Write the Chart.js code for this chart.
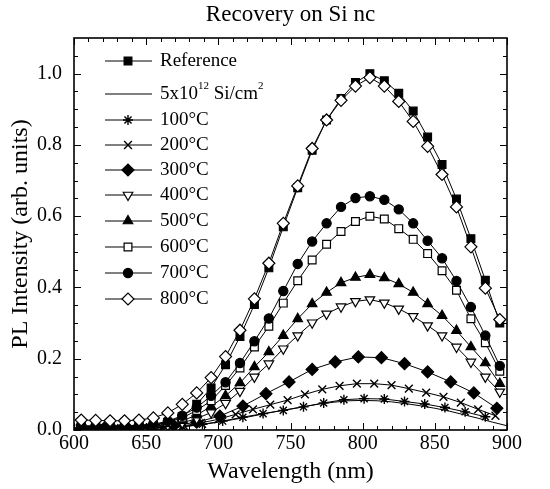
<!DOCTYPE html>
<html>
<head>
<meta charset="utf-8">
<script src="https://cdn.jsdelivr.net/npm/chart.js@4.4.1/dist/chart.umd.min.js"></script>
<style>
  html, body { margin: 0; padding: 0; background: #fff; }
  #wrap { width: 550px; height: 489px; }
</style>
</head>
<body>
<div id="wrap"><canvas id="pl-chart" width="550" height="489"></canvas></div>
<script>
// PL recovery on Si nanocrystals

// wavelengths (nm) of each measurement set
const wl10 = [605, 615, 625, 635, 645, 655, 665, 675, 685, 695, 705, 715, 725, 735, 745,
  755, 765, 775, 785, 795, 805, 815, 825, 835, 845, 855, 865, 875, 885, 895];
const wl16 = [605, 621, 637, 653, 669, 685, 701, 717, 733, 749, 765, 781, 797, 813, 829,
  845, 861, 877, 893];
const wl12 = [604, 616, 628, 640, 652, 664, 676, 688, 700, 712, 724, 736, 748, 760, 772,
  784, 796, 808, 820, 832, 844, 856, 868, 880, 892];
const wl14 = [605, 619, 633, 647, 661, 675, 689, 703, 717, 731, 745, 759, 773, 787, 801,
  815, 829, 843, 857, 871, 885];
const wlDose = [600, 610, 620, 630, 640, 650, 660, 670, 680, 690, 700, 710, 720, 730, 740,
  750, 760, 770, 780, 790, 800, 810, 820, 830, 840, 850, 860, 870, 880, 890, 900];

// PL intensity (arb. units)
const reference = [0.008, 0.008, 0.008, 0.009, 0.010, 0.013, 0.022, 0.038, 0.072, 0.118,
  0.183, 0.262, 0.352, 0.455, 0.570, 0.680, 0.785, 0.870, 0.930, 0.975,
  1.000, 0.980, 0.945, 0.895, 0.822, 0.745, 0.648, 0.537, 0.420, 0.300];
const implanted = [0.002, 0.002, 0.003, 0.003, 0.004, 0.005, 0.006, 0.008, 0.011, 0.016,
  0.022, 0.029, 0.036, 0.044, 0.052, 0.059, 0.066, 0.073, 0.078, 0.082,
  0.083, 0.082, 0.079, 0.074, 0.068, 0.061, 0.053, 0.043, 0.033, 0.022, 0.012];
const t100 = [0.003, 0.003, 0.004, 0.005, 0.007, 0.010, 0.016, 0.025, 0.036, 0.046,
  0.055, 0.065, 0.076, 0.085, 0.088, 0.087, 0.080, 0.073, 0.063, 0.051, 0.037];
const t200 = [0.004, 0.004, 0.005, 0.005, 0.006, 0.008, 0.012, 0.020, 0.030, 0.044,
  0.058, 0.071, 0.084, 0.100, 0.114, 0.124, 0.130, 0.130, 0.126, 0.116,
  0.105, 0.093, 0.077, 0.058, 0.040];
const t300 = [0.005, 0.005, 0.006, 0.007, 0.012, 0.022, 0.039, 0.067, 0.102, 0.135,
  0.170, 0.191, 0.205, 0.203, 0.186, 0.163, 0.135, 0.104, 0.061];
const t400 = [0.006, 0.006, 0.006, 0.006, 0.007, 0.009, 0.013, 0.020, 0.032, 0.049,
  0.075, 0.109, 0.149, 0.186, 0.228, 0.265, 0.301, 0.326, 0.346, 0.361,
  0.366, 0.357, 0.340, 0.319, 0.293, 0.265, 0.233, 0.191, 0.149, 0.107];
const t500 = [0.008, 0.008, 0.008, 0.008, 0.009, 0.011, 0.017, 0.026, 0.042, 0.066,
  0.096, 0.132, 0.177, 0.219, 0.265, 0.312, 0.354, 0.386, 0.413, 0.428,
  0.436, 0.427, 0.410, 0.386, 0.354, 0.321, 0.279, 0.233, 0.188, 0.130];
const t600 = [0.010, 0.010, 0.010, 0.010, 0.011, 0.014, 0.021, 0.034, 0.055, 0.082,
  0.125, 0.174, 0.233, 0.291, 0.356, 0.419, 0.477, 0.521, 0.557, 0.585,
  0.600, 0.592, 0.565, 0.535, 0.495, 0.447, 0.392, 0.312, 0.245, 0.165];
const t700 = [0.012, 0.012, 0.012, 0.012, 0.013, 0.016, 0.025, 0.040, 0.063, 0.096,
  0.134, 0.188, 0.249, 0.313, 0.390, 0.466, 0.529, 0.580, 0.626, 0.651,
  0.656, 0.646, 0.619, 0.580, 0.531, 0.482, 0.418, 0.345, 0.265, 0.180];
const t800 = [0.028, 0.027, 0.026, 0.026, 0.028, 0.034, 0.048, 0.072, 0.104, 0.147,
  0.206, 0.280, 0.368, 0.468, 0.580, 0.685, 0.790, 0.870, 0.925, 0.965,
  0.989, 0.965, 0.922, 0.866, 0.796, 0.717, 0.626, 0.514, 0.398, 0.310];

// axis ticks
const xTicks = [600, 650, 700, 750, 800, 850, 900];
const yTicks = [0.0, 0.2, 0.4, 0.6, 0.8, 1.0];

const FONT = "'Liberation Serif', 'Times New Roman', serif";

function pairs(xs, ys) {
  return xs.map((x, i) => ({ x: x, y: ys[i] }));
}

// label parts ("sup" = superscript), marker style
const series = [
  { parts: [{ t: "Reference" }], xs: wl10, ys: reference, style: "rect", fill: true, r: 5.5 },
  { parts: [{ t: "5x10" }, { t: "12", sup: true }, { t: " Si/cm" }, { t: "2", sup: true }],
    xs: wlDose, ys: implanted, style: false, fill: false, r: 0 },
  { parts: [{ t: "100°C" }], xs: wl14, ys: t100, style: "star", fill: false, r: 5 },
  { parts: [{ t: "200°C" }], xs: wl12, ys: t200, style: "crossRot", fill: false, r: 5.5 },
  { parts: [{ t: "300°C" }], xs: wl16, ys: t300, style: "rectRot", fill: true, r: 6 },
  { parts: [{ t: "400°C" }], xs: wl10, ys: t400, style: "triangle", fill: false, r: 5.5, rot: 180 },
  { parts: [{ t: "500°C" }], xs: wl10, ys: t500, style: "triangle", fill: true, r: 5.5 },
  { parts: [{ t: "600°C" }], xs: wl10, ys: t600, style: "rect", fill: false, r: 5.5 },
  { parts: [{ t: "700°C" }], xs: wl10, ys: t700, style: "circle", fill: true, r: 4.6 },
  { parts: [{ t: "800°C" }], xs: wl10, ys: t800, style: "rectRot", fill: false, r: 6 },
];

const legendRows = [61, 94, 120, 145, 170, 195, 221, 247, 273, 299];

const datasets = series.map((s, i) => ({
  label: s.parts.map((p) => p.t).join(""),
  data: pairs(s.xs, s.ys),
  borderColor: "#000",
  borderWidth: 1,
  tension: 0,
  pointStyle: s.style,
  pointRadius: s.r,
  pointRotation: s.rot || 0,
  pointBorderColor: "#000",
  pointBorderWidth: s.style === "star" || s.style === "crossRot" ? 1.4 : 1.2,
  pointBackgroundColor: s.fill ? "#000" : "#fff",
  order: series.length - i,
}));

// inward ticks on all four sides + frame
const frameTicks = {
  id: "frameTicks",
  afterDatasetsDraw(chart) {
    const { ctx, chartArea: a, scales } = chart;
    const x = scales.x, y = scales.y;
    ctx.save();
    ctx.strokeStyle = "#000";
    ctx.lineWidth = 1;
    ctx.beginPath();
    for (let v = 600; v <= 900; v += 10) {
      const px = Math.round(x.getPixelForValue(v)) + 0.5;
      const len = v % 50 === 0 ? 7 : 4;
      ctx.moveTo(px, a.bottom); ctx.lineTo(px, a.bottom - len);
      ctx.moveTo(px, a.top); ctx.lineTo(px, a.top + len);
    }
    for (let i = 0; i <= 21; i++) {
      const py = Math.round(y.getPixelForValue(i * 0.05)) + 0.5;
      const len = i % 4 === 0 ? 7 : 4;
      ctx.moveTo(a.left, py); ctx.lineTo(a.left + len, py);
      ctx.moveTo(a.right, py); ctx.lineTo(a.right - len, py);
    }
    ctx.stroke();
    ctx.lineWidth = 1.6;
    ctx.strokeRect(a.left, a.top, a.right - a.left, a.bottom - a.top);
    ctx.restore();
  },
};

// legend drawn inside the plot, top-left
const insideLegend = {
  id: "insideLegend",
  afterDraw(chart) {
    const ctx = chart.ctx;
    ctx.save();
    series.forEach((s, i) => {
      const ds = chart.data.datasets[i];
      const yy = legendRows[i];
      ctx.strokeStyle = "#000";
      ctx.lineWidth = 1;
      ctx.beginPath();
      ctx.moveTo(105, yy);
      ctx.lineTo(152, yy);
      ctx.stroke();
      if (s.style) {
        ctx.fillStyle = ds.pointBackgroundColor;
        ctx.strokeStyle = "#000";
        ctx.lineWidth = ds.pointBorderWidth;
        Chart.helpers.drawPoint(ctx, {
          pointStyle: s.style,
          radius: s.r,
          rotation: s.rot || 0,
          borderWidth: ds.pointBorderWidth,
        }, 128, yy);
      }
      let tx = 160;
      ctx.fillStyle = "#000";
      ctx.textBaseline = "middle";
      s.parts.forEach((p) => {
        ctx.font = (p.sup ? "11px " : "19px ") + FONT;
        ctx.fillText(p.t, tx, p.sup ? yy - 8 : yy);
        tx += ctx.measureText(p.t).width;
      });
    });
    ctx.restore();
  },
};

Chart.defaults.font.family = FONT;
Chart.defaults.color = "#000";

new Chart(document.getElementById("pl-chart"), {
  type: "line",
  data: { datasets: datasets },
  options: {
    responsive: false,
    animation: false,
    layout: { padding: { right: 43 } },
    plugins: {
      legend: { display: false },
      tooltip: { enabled: false },
      title: {
        display: true,
        text: "Recovery on Si nc",
        fullSize: false,
        font: { size: 23, weight: "normal" },
        color: "#000",
        padding: { top: 1, bottom: 9.4 },
      },
    },
    scales: {
      x: {
        type: "linear",
        min: 600,
        max: 900,
        afterFit: (s) => { s.height = 59; },
        afterBuildTicks: (s) => { s.ticks = xTicks.map((v) => ({ value: v })); },
        ticks: { font: { size: 20 }, padding: 2, maxRotation: 0, color: "#000" },
        grid: { display: false, drawTicks: false },
        border: { display: false },
        title: {
          display: true,
          text: "Wavelength (nm)",
          font: { size: 24 },
          color: "#000",
          padding: { top: 0, bottom: 2.5 },
        },
      },
      y: {
        min: 0,
        max: 1.1,
        afterFit: (s) => { s.width = 74; },
        afterBuildTicks: (s) => { s.ticks = yTicks.map((v) => ({ value: v })); },
        ticks: {
          font: { size: 20 },
          padding: 12,
          color: "#000",
          callback: (v) => Number(v).toFixed(1),
        },
        grid: { display: false, drawTicks: false },
        border: { display: false },
        title: {
          display: true,
          text: "PL Intensity (arb. units)",
          font: { size: 24 },
          color: "#000",
          padding: { top: 6, bottom: 0 },
        },
      },
    },
  },
  plugins: [frameTicks, insideLegend],
});
</script>
</body>
</html>
